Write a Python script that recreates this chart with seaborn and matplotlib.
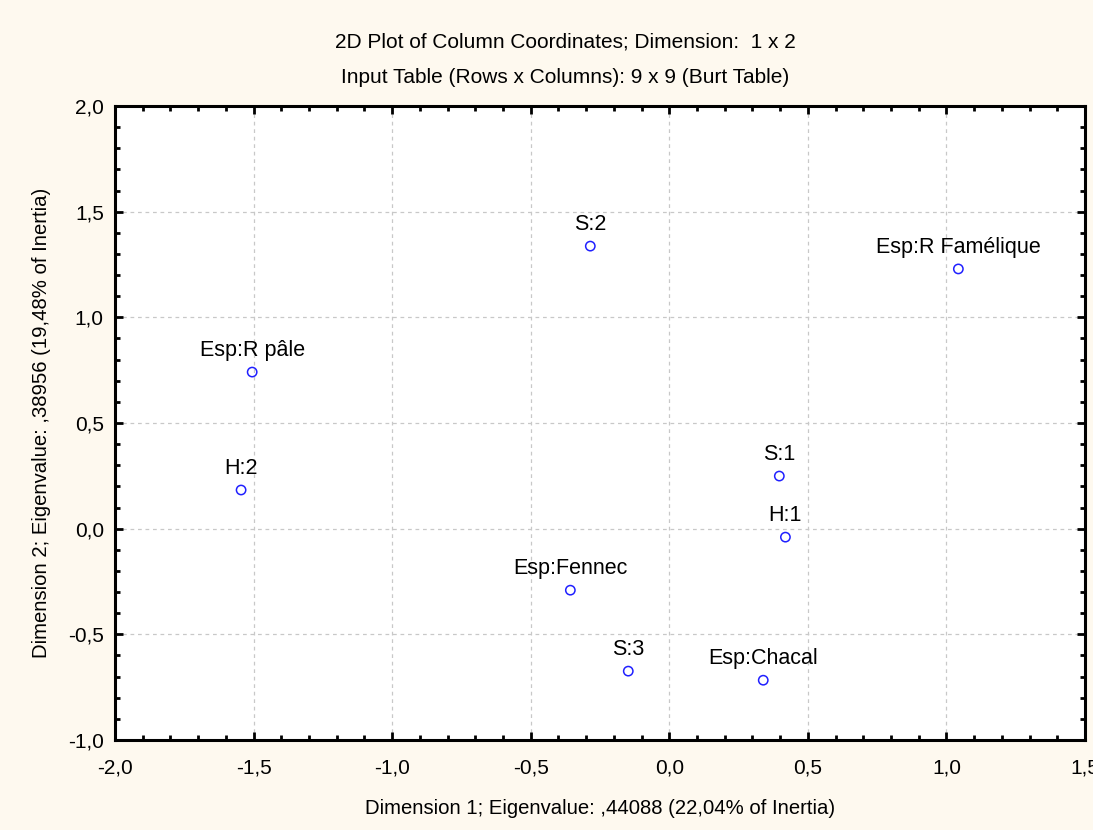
import numpy as np
import pandas as pd
import matplotlib
matplotlib.use("Agg")
import matplotlib.pyplot as plt
import seaborn as sns
from matplotlib.ticker import MultipleLocator, FuncFormatter

# Column coordinates
labels = ["S:2", "Esp:R Famélique", "Esp:R pâle", "H:2", "S:1", "H:1",
          "Esp:Fennec", "S:3", "Esp:Chacal"]
dim1 = [-0.285, 1.043, -1.505, -1.545, 0.397, 0.419, -0.357, -0.148, 0.339]
dim2 = [1.337, 1.229, 0.741, 0.183, 0.249, -0.040, -0.291, -0.674, -0.717]

title_lines = ["2D Plot of Column Coordinates; Dimension:  1 x 2",
               "Input Table (Rows x Columns): 9 x 9 (Burt Table)"]
xlabel = "Dimension 1; Eigenvalue: ,44088 (22,04% of Inertia)"
ylabel = "Dimension 2; Eigenvalue: ,38956 (19,48% of Inertia)"

df = pd.DataFrame({"label": labels, "dim1": dim1, "dim2": dim2})

sns.set_theme(style="white")
plt.rcParams["font.family"] = ["Liberation Sans", "DejaVu Sans"]
plt.rcParams["text.color"] = "black"
plt.rcParams["axes.labelcolor"] = "black"
plt.rcParams["xtick.color"] = "black"
plt.rcParams["ytick.color"] = "black"

bg = "#fef9ef"
fig = plt.figure(figsize=(10.93, 8.30), dpi=100, facecolor=bg)
ax = fig.add_axes([0.1052, 0.1084, 0.8875, 0.7639])
ax.set_facecolor("white")

sns.scatterplot(data=df, x="dim1", y="dim2", ax=ax, marker="o", s=45,
                facecolor="none", edgecolor="#2020ff", linewidth=1.1, zorder=3)

for _, r in df.iterrows():
    ax.annotate(r["label"], (r["dim1"], r["dim2"]), xytext=(0, 8),
                textcoords="offset points", ha="center", va="bottom",
                fontsize=15.5, color="black")

ax.set_xlim(-2.0, 1.5)
ax.set_ylim(-1.0, 2.0)
ax.xaxis.set_major_locator(MultipleLocator(0.5))
ax.xaxis.set_minor_locator(MultipleLocator(0.1))
ax.yaxis.set_major_locator(MultipleLocator(0.5))
ax.yaxis.set_minor_locator(MultipleLocator(0.1))
comma = FuncFormatter(lambda v, p: f"{v:.1f}".replace(".", ",").replace("-0,0", "0,0"))
ax.xaxis.set_major_formatter(comma)
ax.yaxis.set_major_formatter(comma)

ax.tick_params(which="both", direction="in", top=True, right=True,
               bottom=True, left=True, labelsize=15)
ax.tick_params(which="major", length=6, width=2)
ax.tick_params(which="minor", length=3.5, width=2)
ax.tick_params(axis="x", which="major", pad=13)
ax.tick_params(axis="y", which="major", pad=8)

ax.grid(True, which="major", linestyle=(0, (3, 3)), color="#c8c8c8", linewidth=0.9)
for sp in ax.spines.values():
    sp.set_visible(True)
    sp.set_color("black")
    sp.set_linewidth(2.2)

ax.set_xlabel(xlabel, fontsize=14.6, labelpad=16)
ax.set_ylabel(ylabel, fontsize=14.6, labelpad=12)

fig.text(0.517, 0.950, title_lines[0], ha="center", va="center", fontsize=15)
fig.text(0.517, 0.907, title_lines[1], ha="center", va="center", fontsize=15)

fig.savefig("out.png", dpi=100, facecolor=bg)
